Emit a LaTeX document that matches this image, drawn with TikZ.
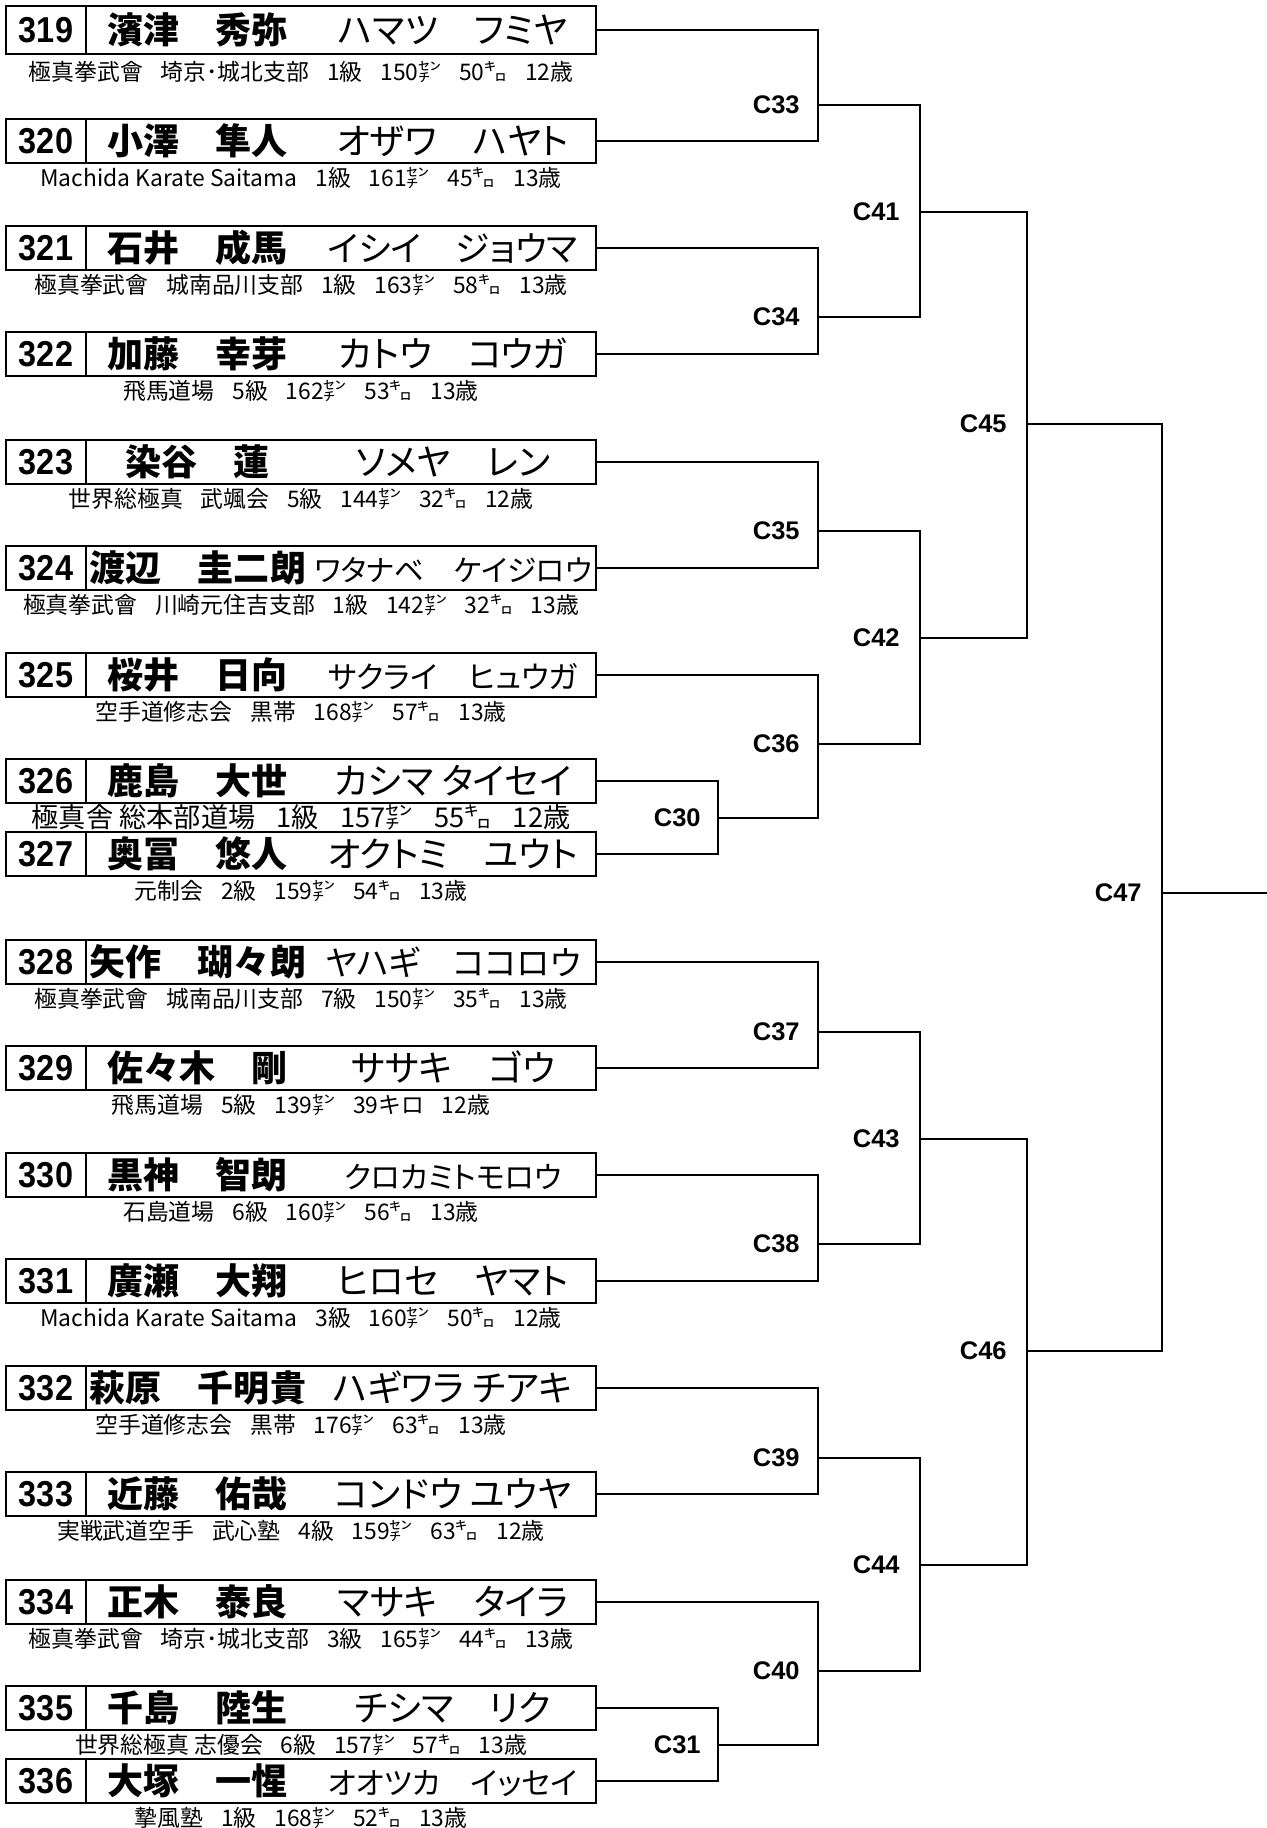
\documentclass[tikz,border=0pt]{standalone}
\usepackage{fontspec}
\usepackage{graphicx}
\usepackage{tikz}
\usetikzlibrary{positioning,calc}
\usepackage{xcolor}
\setmainfont{Noto Sans CJK JP}
\newfontfamily\jpfont{Noto Sans CJK JP}
\newfontfamily\kanafont[RawFeature=+palt]{Noto Sans CJK JP}
\newfontfamily\numfont[FakeStretch=0.9]{Liberation Sans}
\newfontfamily\labfont{Liberation Sans}
\definecolor{ink}{HTML}{000000}
\newcommand{\gsp}{\hspace{0.78em}}
\newsavebox{\kanabox}
\newcommand{\fitto}[2]{\sbox{\kanabox}{#2}\ifdim\wd\kanabox>#1\relax\resizebox{#1}{!}{\usebox{\kanabox}}\else\usebox{\kanabox}\fi}
\newcommand{\pname}[3][5cm]{\makebox[4.48cm]{\jpfont\bfseries\fontsize{20.5}{20.5}\selectfont #2}\makebox[5.72cm]{\fitto{#1}{\kanafont\fontsize{20.5}{20.5}\selectfont #3}}}
\tikzset{
  numcell/.style={draw=ink, line width=1.4pt, minimum width=1.6cm, minimum height=0.88cm, inner sep=0pt, outer sep=0pt, font=\numfont\bfseries\fontsize{20.5}{20.5}\selectfont},
  namecell/.style={draw=ink, line width=1.4pt, minimum width=10.2cm, minimum height=0.88cm, inner sep=0pt, outer sep=0pt},
  info/.style={inner sep=0pt, font=\jpfont\fontsize{13}{13}\selectfont},
  mlabel/.style={inner sep=0pt, anchor=east, font=\labfont\bfseries\fontsize{14.5}{14.5}\selectfont},
  wire/.style={line width=0.9pt, draw=ink}
}

\begin{document}
\begin{tikzpicture}[x=0.02cm, y=-0.02cm]
  \useasboundingbox (0,0) rectangle (1267,1828);
  % entries
  \node[numcell, minimum height=0.96cm] (n319) at (46,30) {319};
  \node[namecell, minimum height=0.96cm, right=0pt of n319] (p319) {\pname{濱津　秀弥}{ハマツ　フミヤ}};
  \node[info] (a319) at (301,72) {極真拳武會\gsp 埼京･城北支部\gsp 1級\gsp 150㌢\gsp 50㌔\gsp 12歳};
  \node[numcell] (n320) at (46,141) {320};
  \node[namecell, right=0pt of n320] (p320) {\pname{小澤　隼人}{オザワ　ハヤト}};
  \node[info] (a320) at (301,178) {Machida Karate Saitama\gsp 1級\gsp 161㌢\gsp 45㌔\gsp 13歳};
  \node[numcell] (n321) at (46,248) {321};
  \node[namecell, right=0pt of n321] (p321) {\pname{石井　成馬}{イシイ　ジョウマ}};
  \node[info] (a321) at (301,285) {極真拳武會\gsp 城南品川支部\gsp 1級\gsp 163㌢\gsp 58㌔\gsp 13歳};
  \node[numcell] (n322) at (46,354) {322};
  \node[namecell, right=0pt of n322] (p322) {\pname{加藤　幸芽}{カトウ　コウガ}};
  \node[info] (a322) at (301,391) {飛馬道場\gsp 5級\gsp 162㌢\gsp 53㌔\gsp 13歳};
  \node[numcell] (n323) at (46,462) {323};
  \node[namecell, right=0pt of n323] (p323) {\pname{染谷　蓮}{ソメヤ　レン}};
  \node[info] (a323) at (301,499) {世界総極真\gsp 武颯会\gsp 5級\gsp 144㌢\gsp 32㌔\gsp 12歳};
  \node[numcell] (n324) at (46,568) {324};
  \node[namecell, right=0pt of n324] (p324) {\pname[5.55cm]{渡辺　圭二朗}{ワタナベ　ケイジロウ}};
  \node[info] (a324) at (301,605) {極真拳武會\gsp 川崎元住吉支部\gsp 1級\gsp 142㌢\gsp 32㌔\gsp 13歳};
  \node[numcell] (n325) at (46,675) {325};
  \node[namecell, right=0pt of n325] (p325) {\pname{桜井　日向}{サクライ　ヒュウガ}};
  \node[info] (a325) at (301,712) {空手道修志会\gsp 黒帯\gsp 168㌢\gsp 57㌔\gsp 13歳};
  \node[numcell] (n326) at (46,781) {326};
  \node[namecell, right=0pt of n326] (p326) {\pname{鹿島　大世}{カシマ\ タイセイ}};
  \node[info, font=\jpfont\fontsize{15.5}{15.5}\selectfont] (a326) at (301,817) {極真舎\ 総本部道場\gsp 1級\gsp 157㌢\gsp 55㌔\gsp 12歳};
  \node[numcell] (n327) at (46,854) {327};
  \node[namecell, right=0pt of n327] (p327) {\pname{奥冨　悠人}{オクトミ　ユウト}};
  \node[info] (a327) at (301,891) {元制会\gsp 2級\gsp 159㌢\gsp 54㌔\gsp 13歳};
  \node[numcell] (n328) at (46,962) {328};
  \node[namecell, right=0pt of n328] (p328) {\pname[5.1cm]{矢作　瑚々朗}{ヤハギ　ココロウ}};
  \node[info] (a328) at (301,999) {極真拳武會\gsp 城南品川支部\gsp 7級\gsp 150㌢\gsp 35㌔\gsp 13歳};
  \node[numcell] (n329) at (46,1068) {329};
  \node[namecell, right=0pt of n329] (p329) {\pname{佐々木　剛}{ササキ　ゴウ}};
  \node[info] (a329) at (301,1105) {飛馬道場\gsp 5級\gsp 139㌢\gsp 39キロ\gsp 12歳};
  \node[numcell] (n330) at (46,1175) {330};
  \node[namecell, right=0pt of n330] (p330) {\pname[4.35cm]{黒神　智朗}{クロカミトモロウ}};
  \node[info] (a330) at (301,1212) {石島道場\gsp 6級\gsp 160㌢\gsp 56㌔\gsp 13歳};
  \node[numcell] (n331) at (46,1281) {331};
  \node[namecell, right=0pt of n331] (p331) {\pname{廣瀬　大翔}{ヒロセ　ヤマト}};
  \node[info] (a331) at (301,1318) {Machida Karate Saitama\gsp 3級\gsp 160㌢\gsp 50㌔\gsp 12歳};
  \node[numcell] (n332) at (46,1388) {332};
  \node[namecell, right=0pt of n332] (p332) {\pname{萩原　千明貴}{ハギワラ\ チアキ}};
  \node[info] (a332) at (301,1425) {空手道修志会\gsp 黒帯\gsp 176㌢\gsp 63㌔\gsp 13歳};
  \node[numcell] (n333) at (46,1494) {333};
  \node[namecell, right=0pt of n333] (p333) {\pname{近藤　佑哉}{コンドウ\ ユウヤ}};
  \node[info] (a333) at (301,1531) {実戦武道空手\gsp 武心塾\gsp 4級\gsp 159㌢\gsp 63㌔\gsp 12歳};
  \node[numcell] (n334) at (46,1602) {334};
  \node[namecell, right=0pt of n334] (p334) {\pname{正木　泰良}{マサキ　タイラ}};
  \node[info] (a334) at (301,1639) {極真拳武會\gsp 埼京･城北支部\gsp 3級\gsp 165㌢\gsp 44㌔\gsp 13歳};
  \node[numcell] (n335) at (46,1708) {335};
  \node[namecell, right=0pt of n335] (p335) {\pname{千島　陸生}{チシマ　リク}};
  \node[info] (a335) at (301,1745) {世界総極真\ 志優会\gsp 6級\gsp 157㌢\gsp 57㌔\gsp 13歳};
  \node[numcell] (n336) at (46,1781) {336};
  \node[namecell, right=0pt of n336] (p336) {\pname{大塚　一惺}{オオツカ　イッセイ}};
  \node[info] (a336) at (301,1818) {摯風塾\gsp 1級\gsp 168㌢\gsp 52㌔\gsp 13歳};
  % match points
  \coordinate (m30) at (718,818);
  \coordinate (m31) at (718,1745);
  \coordinate (m33) at (818,105);
  \coordinate (m34) at (818,317);
  \coordinate (m35) at (818,531);
  \coordinate (m36) at (818,744);
  \coordinate (m37) at (818,1032);
  \coordinate (m38) at (818,1244);
  \coordinate (m39) at (818,1458);
  \coordinate (m40) at (818,1671);
  \coordinate (m41) at (920,212);
  \coordinate (m42) at (920,638);
  \coordinate (m43) at (920,1139);
  \coordinate (m44) at (920,1565);
  \coordinate (m45) at (1027,424);
  \coordinate (m46) at (1027,1351);
  \coordinate (m47) at (1162,893);
  \coordinate (fin) at (1267,893);
  % bracket lines
  \draw[wire] (p326.east) -| (m30) |- (p327.east);
  \draw[wire] (p335.east) -| (m31) |- (p336.east);
  \draw[wire] (p319.east) -| (m33) |- (p320.east);
  \draw[wire] (p321.east) -| (m34) |- (p322.east);
  \draw[wire] (p323.east) -| (m35) |- (p324.east);
  \draw[wire] (p325.east) -| (m36) |- (m30);
  \draw[wire] (p328.east) -| (m37) |- (p329.east);
  \draw[wire] (p330.east) -| (m38) |- (p331.east);
  \draw[wire] (p332.east) -| (m39) |- (p333.east);
  \draw[wire] (p334.east) -| (m40) |- (m31);
  \draw[wire] (m33) -| (m41) |- (m34);
  \draw[wire] (m35) -| (m42) |- (m36);
  \draw[wire] (m37) -| (m43) |- (m38);
  \draw[wire] (m39) -| (m44) |- (m40);
  \draw[wire] (m41) -| (m45) |- (m42);
  \draw[wire] (m43) -| (m46) |- (m44);
  \draw[wire] (m45) -| (m47) |- (m46);
  \draw[wire] (m47) -- (fin);
  % match labels
  \node[mlabel, left=0.34cm of m30] (l30) {C30};
  \node[mlabel, left=0.34cm of m31] (l31) {C31};
  \node[mlabel, left=0.36cm of m33] (l33) {C33};
  \node[mlabel, left=0.36cm of m34] (l34) {C34};
  \node[mlabel, left=0.36cm of m35] (l35) {C35};
  \node[mlabel, left=0.36cm of m36] (l36) {C36};
  \node[mlabel, left=0.36cm of m37] (l37) {C37};
  \node[mlabel, left=0.36cm of m38] (l38) {C38};
  \node[mlabel, left=0.36cm of m39] (l39) {C39};
  \node[mlabel, left=0.36cm of m40] (l40) {C40};
  \node[mlabel, left=0.4cm of m41] (l41) {C41};
  \node[mlabel, left=0.4cm of m42] (l42) {C42};
  \node[mlabel, left=0.4cm of m43] (l43) {C43};
  \node[mlabel, left=0.4cm of m44] (l44) {C44};
  \node[mlabel, left=0.4cm of m45] (l45) {C45};
  \node[mlabel, left=0.4cm of m46] (l46) {C46};
  \node[mlabel, left=0.4cm of m47] (l47) {C47};
\end{tikzpicture}
\end{document}
